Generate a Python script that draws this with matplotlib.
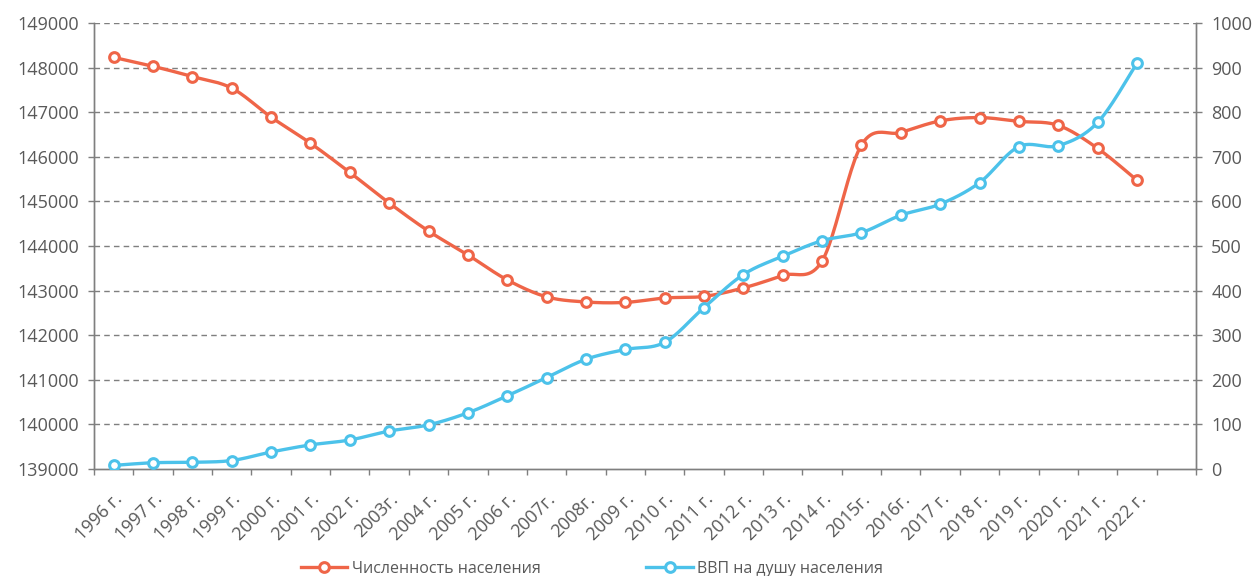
import numpy as np
import matplotlib
matplotlib.use("Agg")
import matplotlib.pyplot as plt
from matplotlib.lines import Line2D
from matplotlib.ticker import FixedLocator

plt.rcParams["font.family"] = ["Open Sans", "DejaVu Sans"]

# ---- данные ----
years = ["1996 г.", "1997 г.", "1998 г.", "1999 г.", "2000 г.", "2001 г.",
         "2002 г.", "2003г.", "2004 г.", "2005 г.", "2006 г.", "2007г.",
         "2008г.", "2009 г.", "2010 г.", "2011 г.", "2012 г.", "2013 г.",
         "2014 г.", "2015г.", "2016г.", "2017 г.", "2018 г.", "2019 г.",
         "2020 г.", "2021 г.", "2022 г.", ""]
population = [148230, 148030, 147800, 147540, 146890, 146305, 145650, 144965,
              144335, 143800, 143240, 142860, 142745, 142735, 142835, 142870,
              143060, 143340, 143665, 146265, 146545, 146805, 146880, 146795,
              146705, 146190, 145475]
gdp_per_capita = [8, 14, 15, 19, 38, 54, 65, 85, 99, 126, 164, 205, 246, 268,
                  284, 362, 436, 477, 512, 530, 569, 594, 642, 723, 725, 777, 910]

RED = "#EF6548"
BLUE = "#4CC2EA"
GRID = "#7F7F7F"
TXT = "#595959"


def smooth(xs, ys, n=24):
    """Сглаживание как в Excel (Безье по соседним точкам)."""
    p = np.column_stack([xs, ys]).astype(float)
    ext = np.vstack([p[0], p, p[-1]])
    out = []
    t = np.linspace(0, 1, n)[:, None]
    for i in range(len(p) - 1):
        p0, p1, p2, p3 = ext[i], ext[i + 1], ext[i + 2], ext[i + 3]
        c1 = p1 + (p2 - p0) / 6
        c2 = p2 - (p3 - p1) / 6
        seg = ((1 - t) ** 3) * p1 + 3 * ((1 - t) ** 2) * t * c1 \
            + 3 * (1 - t) * t ** 2 * c2 + t ** 3 * p2
        out.append(seg if i == 0 else seg[1:])
    out = np.vstack(out)
    return out[:, 0], out[:, 1]


fig = plt.figure(figsize=(12.6, 5.76), dpi=100)
ax = fig.add_axes([0.0746, 0.1858, 0.8746, 0.7742])
ax2 = ax.twinx()

x = np.arange(len(population))
ncat = len(years)

# сетка
for v in range(140000, 149001, 1000):
    ax.axhline(v, color=GRID, lw=1.0, ls=(0, (4, 3)), zorder=0)

sx, sy = smooth(x, population)
ax.plot(sx, sy, color=RED, lw=2.4, zorder=3, solid_capstyle="round")
ax.plot(x, population, ls="none", marker="o", ms=7, mfc="white", mec=RED,
        mew=2.2, zorder=4)

bx, by = smooth(x, gdp_per_capita)
ax2.plot(bx, by, color=BLUE, lw=2.4, zorder=3, solid_capstyle="round")
ax2.plot(x, gdp_per_capita, ls="none", marker="o", ms=7, mfc="white",
         mec=BLUE, mew=2.2, zorder=4)

ax.set_xlim(-0.5, ncat - 0.5)
ax.set_ylim(139000, 149000)
ax2.set_ylim(0, 1000)
ax.set_yticks(range(139000, 149001, 1000))
ax2.set_yticks(range(0, 1001, 100))

ax.set_xticks(np.arange(ncat))
ax.set_xticklabels(years, rotation=45, ha="right", va="top",
                   rotation_mode="anchor", fontsize=13, color=TXT)
ax.xaxis.set_minor_locator(FixedLocator(np.arange(ncat + 1) - 0.5))
ax.tick_params(axis="x", which="major", length=0, pad=15)
ax.tick_params(axis="x", which="minor", length=4.5, color=GRID, width=1)
ax.tick_params(axis="y", length=4.5, color=GRID, width=1, labelsize=13,
               labelcolor=TXT, pad=6.5)
ax2.tick_params(axis="y", length=4.5, color=GRID, width=1, labelsize=13,
                labelcolor=TXT, pad=6.5)

for a in (ax, ax2):
    a.spines["top"].set_visible(False)
    for s in ("left", "right", "bottom"):
        a.spines[s].set_color(GRID)
        a.spines[s].set_linewidth(1.0)

handles = [
    Line2D([0], [0], color=RED, lw=2.4, marker="o", ms=7, mfc="white",
           mec=RED, mew=2.2, label="Численность населения"),
    Line2D([0], [0], color=BLUE, lw=2.4, marker="o", ms=7, mfc="white",
           mec=BLUE, mew=2.2, label="ВВП на душу населения"),
]
leg = fig.legend(handles=handles, loc="center", bbox_to_anchor=(0.47, 0.012),
                 ncol=2, frameon=False, fontsize=11.5, handlelength=2.9,
                 columnspacing=6.6, handletextpad=0.3)
for t in leg.get_texts():
    t.set_color(TXT)

fig.savefig("out.png", dpi=100)
